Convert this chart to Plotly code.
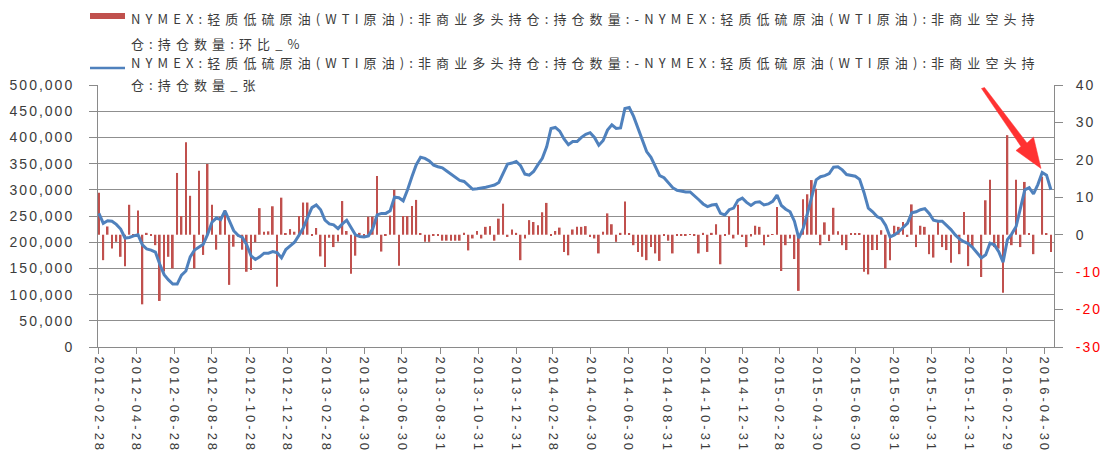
import plotly.graph_objects as go
import pandas as pd

# ---------------- data ----------------
start_date = "2012-02-28"   # weekly (Tuesday) CFTC reports

# net non-commercial long position (contracts, thousands)
net_long_k = [
    255, 236, 241, 240, 234, 225, 208, 209, 212, 214,
    195, 187, 185, 181, 158, 138, 128, 120, 120, 137,
    145, 172, 185, 190, 196, 215, 238, 246, 243, 260,
    242, 222, 213, 209, 195, 174, 167, 172, 179, 179,
    182, 180, 170, 186, 193, 200, 213, 227, 247, 266,
    271, 262, 242, 235, 233, 226, 235, 242, 228, 214,
    211, 210, 212, 226, 252, 255, 255, 260, 286, 285,
    279, 300, 325, 348, 362, 360, 355, 347, 344, 342,
    336, 330, 324, 318, 316, 309, 301, 302, 303, 305,
    307, 309, 314, 332, 349, 351, 354, 346, 330, 328,
    335, 348, 360, 382, 417, 419, 412, 397, 386, 392,
    392, 400, 406, 409, 400, 385, 394, 414, 424, 417,
    418, 455, 457, 440, 417, 395, 373, 362, 345, 327,
    323, 314, 304, 299, 297, 296, 296, 289, 281, 273,
    268, 271, 272, 255, 252, 262, 265, 280, 284, 276,
    270, 276, 277, 271, 273, 278, 290, 270, 263, 258,
    240, 208, 226, 255, 290, 319, 325, 327, 331, 343,
    344, 338, 329, 327, 326, 320, 295, 265, 258, 249,
    245, 232, 210, 214, 220, 228, 236, 256, 258, 262,
    264, 255, 242, 240, 240, 232, 224, 214, 206, 201,
    197, 190, 180, 170, 176, 198, 195, 182, 162, 205,
    216, 230, 265, 300, 304, 292, 310, 333, 328, 300,
]

# week-on-week change of the net long position (%)
wow_pct = [
    11.2, -6.8, 2.2, -3.7, -1.9, -5.9, -8.4, 8.0, -0.5, 6.5,
    -18.6, 0.5, -0.2, -2.8, -17.7, -9.8, -5.9, -9.0, 16.5, 5.0,
    24.7, 10.4, -9.0, 17.1, -5.4, 18.9, 8.0, -4.0, 4.8, 6.6,
    -13.4, -3.2, -0.5, -4.0, -9.9, -9.4, -2.0, 7.1, 0.8, 0.9,
    7.6, -13.9, 9.9, 0.2, 1.5, 0.8, 5.0, 8.6, 8.6, -0.1,
    1.8, -5.8, -8.6, -0.8, -3.3, -1.8, 9.0, 1.0, -10.4, -5.6,
    0.5, -0.3, 4.8, 4.8, 15.7, -4.5, -0.3, 5.1, 12.0, -8.3,
    5.0, 5.0, 7.7, 9.3, 0.3, -1.9, -1.9, -0.3, -0.2, -1.6,
    -1.6, -1.6, -1.6, -1.6, 0.5, -4.2, -1.0, 1.0, -1.0, 2.1,
    2.3, -1.6, 4.3, 8.3, -0.6, 1.4, 0.5, -6.8, -1.0, 3.9,
    3.4, 2.5, 6.0, 8.5, -0.3, 1.0, 1.9, -4.6, -5.5, 1.4,
    2.1, 2.1, 2.3, -0.6, -1.0, -5.0, 0.8, 5.7, 2.8, -1.9,
    0.5, 8.9, 0.3, -2.8, -4.6, -5.9, -6.8, -3.3, -5.0, -7.0,
    -0.3, -1.6, -5.0, -0.3, -0.3, -0.2, 0.1, -0.3, -5.0, 0.5,
    -4.6, 0.5, 2.8, -7.9, -0.3, 4.9, -1.0, 8.0, -0.6, -3.3,
    -0.5, 2.4, 2.1, -2.8, -0.6, 0.1, 7.4, -9.7, -2.8, -1.0,
    -6.5, -15.0, 9.5, 10.8, 14.6, 12.3, -2.8, 3.3, -1.7, 7.2,
    0.9, -2.8, -4.1, 0.2, 0.2, 0.2, -9.9, -10.6, -4.1, -4.1,
    1.2, -9.0, -6.8, 2.4, 2.1, 3.4, -0.6, 8.1, -3.3, 2.4,
    2.1, -5.2, -6.1, 3.4, -3.3, -4.1, -7.5, -0.2, -5.2, 6.1,
    -8.4, -3.3, 0.0, -11.3, 9.2, 14.7, -3.3, -3.7, -15.5, 26.6,
    -2.8, 14.7, -3.3, 14.1, 0.3, -5.2, 0.0, 15.5, 0.3, -4.6,
]

x_tick_labels = [
    "2012-02-28", "2012-04-28", "2012-06-28", "2012-08-28", "2012-10-28",
    "2012-12-28", "2013-02-28", "2013-04-30", "2013-06-30", "2013-08-31",
    "2013-10-31", "2013-12-31", "2014-02-28", "2014-04-30", "2014-06-30",
    "2014-08-31", "2014-10-31", "2014-12-31", "2015-02-28", "2015-04-30",
    "2015-06-30", "2015-08-31", "2015-10-31", "2015-12-31", "2016-02-29",
    "2016-04-30",
]
left_ticks = [0, 50000, 100000, 150000, 200000, 250000, 300000, 350000, 400000, 450000, 500000]
right_ticks = [-30, -20, -10, 0, 10, 20, 30, 40]

name_bar = ("NYMEX:轻质低硫原油(WTI原油):非商业多头持仓:持仓数量:-NYMEX:轻质低硫原油(WTI原油):"
            "非商业空头持仓:持仓数量:环比_%")
name_line = ("NYMEX:轻质低硫原油(WTI原油):非商业多头持仓:持仓数量:-NYMEX:轻质低硫原油(WTI原油):"
             "非商业空头持仓:持仓数量_张")
legend_line1 = "NYMEX:轻质低硫原油(WTI原油):非商业多头持仓:持仓数量:-NYMEX:轻质低硫原油(WTI原油):非商业空头持"
legend_bar_line2 = "仓:持仓数量:环比_%"
legend_line_line2 = "仓:持仓数量_张"

# ---------------- figure ----------------
weeks = pd.date_range(start_date, periods=len(net_long_k), freq="7D")
net_long = [v * 1000 for v in net_long_k]

W, H = 1108, 461
PL, PR, PT, PB = 98, 1054, 85, 347
TEXT = "#3c3c3c"
AX = "#8a8a8a"
GRID = "#8f8f8f"


def px(x):
    return (x - PL) / (PR - PL)


def py(y):
    return (PB - y) / (PB - PT)


def spaced(s, ls):
    return f'<span style="letter-spacing:{ls}px">{s}</span>'


fig = go.Figure()
fig.add_trace(go.Bar(
    x=weeks, y=wow_pct, name=name_bar, yaxis="y",
    marker=dict(color="#C0504D", line=dict(width=0)),
    width=2.8 * 86400000, showlegend=False,
))
fig.add_trace(go.Scatter(
    x=weeks, y=net_long, name=name_line, yaxis="y2", mode="lines",
    line=dict(color="#4F81BD", width=3), showlegend=False,
))

right_text = []
for v in right_ticks:
    if v < 0:
        right_text.append(f'<span style="color:#FF0000;letter-spacing:2px">{v}</span>')
    else:
        right_text.append(spaced(str(v), 2))

fig.update_layout(
    width=W, height=H,
    margin=dict(l=PL, r=W - PR, t=PT, b=H - PB, pad=0, autoexpand=False),
    paper_bgcolor="white", plot_bgcolor="white",
    font=dict(family="Liberation Sans, Arial, sans-serif", size=14, color=TEXT),
    xaxis=dict(
        type="date", range=["2012-02-26 12:00", "2016-05-15"], automargin=False,
        tickvals=x_tick_labels, ticktext=[spaced(t, 3) for t in x_tick_labels],
        tickangle=90, ticks="outside", ticklen=6, tickcolor=AX, tickwidth=1,
        showline=True, linecolor=AX, linewidth=1, showgrid=False, zeroline=False,
        tickfont=dict(size=13, color=TEXT),
    ),
    yaxis=dict(
        side="right", range=[-30, 40], tickvals=right_ticks, ticktext=right_text,
        showgrid=False, zeroline=False, showline=True, linecolor=AX, linewidth=1,
        ticks="outside", ticklen=8, tickcolor=AX, ticklabelstandoff=10, automargin=False,
        tickfont=dict(size=14, color=TEXT),
    ),
    yaxis2=dict(
        overlaying="y", side="left", anchor="x", range=[0, 500000], automargin=False,
        tickvals=left_ticks, ticktext=[spaced(f"{v:,}", 2) for v in left_ticks],
        showgrid=True, gridcolor=GRID, gridwidth=1, zeroline=False,
        showline=True, linecolor=AX, linewidth=1,
        ticks="outside", ticklen=8, tickcolor=AX, ticklabelstandoff=12,
        tickfont=dict(size=14, color=TEXT),
    ),
)

# ---------------- legend (drawn as text + swatches) ----------------
LEG_FONT = dict(family="Noto Sans CJK SC, sans-serif", size=13, color=TEXT)
legend_rows = [
    (legend_line1, 19),
    (legend_bar_line2, 43),
    (legend_line1, 63),
    (legend_line_line2, 84),
]
for txt, yy in legend_rows:
    fig.add_annotation(
        x=px(129), y=py(yy), xref="paper", yref="paper",
        text=spaced(txt, 5.1), showarrow=False, xanchor="left", yanchor="middle",
        font=LEG_FONT,
    )
fig.add_shape(type="rect", xref="paper", yref="paper",
              x0=px(90), x1=px(125), y0=py(19), y1=py(13),
              fillcolor="#C0504D", line=dict(width=0))
fig.add_shape(type="line", xref="paper", yref="paper",
              x0=px(90), x1=px(125), y0=py(68), y1=py(68),
              line=dict(color="#4F81BD", width=2.5))

# ---------------- red callout arrow ----------------
arrow_pts = [(981.5, 88.5), (984.5, 87.5), (1027, 143), (1033.5, 137),
             (1041, 168.5), (1016, 150.5), (1021, 146.5)]
path = "M " + " L ".join(f"{px(a):.5f},{py(b):.5f}" for a, b in arrow_pts) + " Z"
fig.add_shape(type="path", path=path, xref="paper", yref="paper",
              fillcolor="#FF3232", line=dict(color="#FF3232", width=0.5), layer="above")

fig.write_html("out.html", config={"displayModeBar": False},
               post_script="document.body.style.margin='0px';")
